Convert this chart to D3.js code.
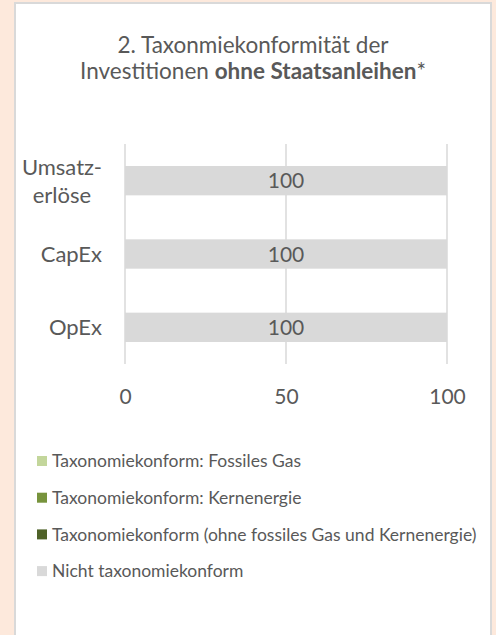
<!DOCTYPE html>
<html>
<head>
<meta charset="utf-8">
<script src="https://cdn.jsdelivr.net/npm/d3@7"></script>
<style>
  html, body { margin: 0; padding: 0; background: #fde9dc; }
  svg { display: block; }
</style>
</head>
<body>
<div id="chart"></div>
<script>
const width = 496, height = 635;

// data
const categories = ["Umsatzerlöse", "CapEx", "OpEx"];
const categoryLabels = [["Umsatz-", "erlöse"], ["CapEx"], ["OpEx"]];
const seriesNames = [
    "Taxonomiekonform: Fossiles Gas",
    "Taxonomiekonform: Kernenergie",
    "Taxonomiekonform (ohne fossiles Gas und Kernenergie)",
    "Nicht taxonomiekonform"
];
const fossilGas = [0, 0, 0];
const nuclear = [0, 0, 0];
const aligned = [0, 0, 0];
const notAligned = [100, 100, 100];
const xTicks = [0, 50, 100];
const colors = ["#c3d69b", "#77933c", "#4f6228", "#d9d9d9"];

const font = "Lato, sans-serif";
const textColor = "#595959";

let svg = d3.select("#chart").append("svg")
    .attr("width", width)
    .attr("height", height);

// white panel with grey border
svg.append("rect")
    .attr("x", 15)
    .attr("y", 3)
    .attr("width", 476)
    .attr("height", height + 10)
    .attr("fill", "#ffffff")
    .attr("stroke", "#d9d9d9")
    .attr("stroke-width", 2);

// title
let title = svg.append("text")
    .attr("text-anchor", "middle")
    .attr("font-family", font)
    .attr("font-size", 22.5)
    .attr("fill", textColor);
title.append("tspan")
    .attr("x", 253)
    .attr("y", 53)
    .text("2. Taxonmiekonformität der");
let t2 = title.append("tspan")
    .attr("x", 253)
    .attr("y", 79);
t2.append("tspan").text("Investitionen ");
t2.append("tspan").attr("font-weight", "bold").text("ohne Staatsanleihen");
t2.append("tspan").text("*");

// scales
let x = d3.scaleLinear()
    .domain([0, 100])
    .range([125, 447]);

let y = d3.scaleBand()
    .domain(categories)
    .range([144, 364]);

const barH = y.bandwidth() * 0.4;

// gridlines
svg.append("g")
    .selectAll("line")
    .data(xTicks)
    .join("line")
        .attr("x1", d => x(d))
        .attr("x2", d => x(d))
        .attr("y1", 144)
        .attr("y2", 364)
        .attr("stroke", "#d9d9d9")
        .attr("stroke-width", 1.5);

// stacked bars
let rows = categories.map((c, i) => ({
    key: c,
    s0: fossilGas[i], s1: nuclear[i], s2: aligned[i], s3: notAligned[i]
}));
let stack = d3.stack().keys(["s0", "s1", "s2", "s3"])(rows);

svg.append("g")
    .selectAll("g")
    .data(stack)
    .join("g")
        .attr("fill", (d, i) => colors[i])
    .selectAll("rect")
    .data(d => d)
    .join("rect")
        .attr("x", d => x(d[0]))
        .attr("width", d => x(d[1]) - x(d[0]))
        .attr("y", d => y(d.data.key) + (y.bandwidth() - barH) / 2)
        .attr("height", barH);

// bar value labels (only the non-zero series)
svg.append("g")
    .attr("font-family", font)
    .attr("font-size", 21)
    .attr("fill", textColor)
    .attr("text-anchor", "middle")
    .selectAll("text")
    .data(stack[3])
    .join("text")
        .attr("x", d => x((d[0] + d[1]) / 2))
        .attr("y", d => y(d.data.key) + y.bandwidth() / 2)
        .attr("dy", "0.36em")
        .text(d => d[1] - d[0]);

// x axis tick labels
let xAxis = g => g
    .attr("transform", `translate(0,${396})`)
    .call(d3.axisBottom(x).tickValues(xTicks).tickSize(0).tickPadding(0))
    .call(g => g.select(".domain").remove())
    .call(g => g.selectAll("text")
        .attr("dy", "0.36em")
        .attr("font-family", font)
        .attr("font-size", 21)
        .attr("fill", textColor));
svg.append("g").call(xAxis);

// category labels, wrapped lines centred on the widest one
let cats = svg.append("g")
    .attr("font-family", font)
    .attr("font-size", 22)
    .attr("fill", textColor)
    .selectAll("text")
    .data(categories)
    .join("text")
        .attr("y", (d, i) => y(d) + y.bandwidth() / 2 - (categoryLabels[i].length - 1) * 14);
cats.selectAll("tspan")
    .data((d, i) => categoryLabels[i])
    .join("tspan")
        .attr("dy", (d, j) => j == 0 ? "0.36em" : 28)
        .text(d => d);
cats.each(function() {
    let t = d3.select(this);
    let w = d3.max(t.selectAll("tspan").nodes(), n => n.getComputedTextLength());
    t.attr("text-anchor", "middle");
    t.selectAll("tspan").attr("x", 102 - w / 2);
});

// legend
let legend = svg.append("g")
    .attr("font-family", font)
    .attr("font-size", 17.5)
    .attr("fill", textColor)
    .selectAll("g")
    .data(seriesNames)
    .join("g")
        .attr("transform", (d, i) => `translate(37,${461 + i * 36.7})`);
legend.append("rect")
    .attr("x", 0)
    .attr("y", -5)
    .attr("width", 10)
    .attr("height", 10)
    .attr("fill", (d, i) => colors[i]);
legend.append("text")
    .attr("x", 15)
    .attr("dy", "0.35em")
    .text(d => d);
</script>
</body>
</html>
